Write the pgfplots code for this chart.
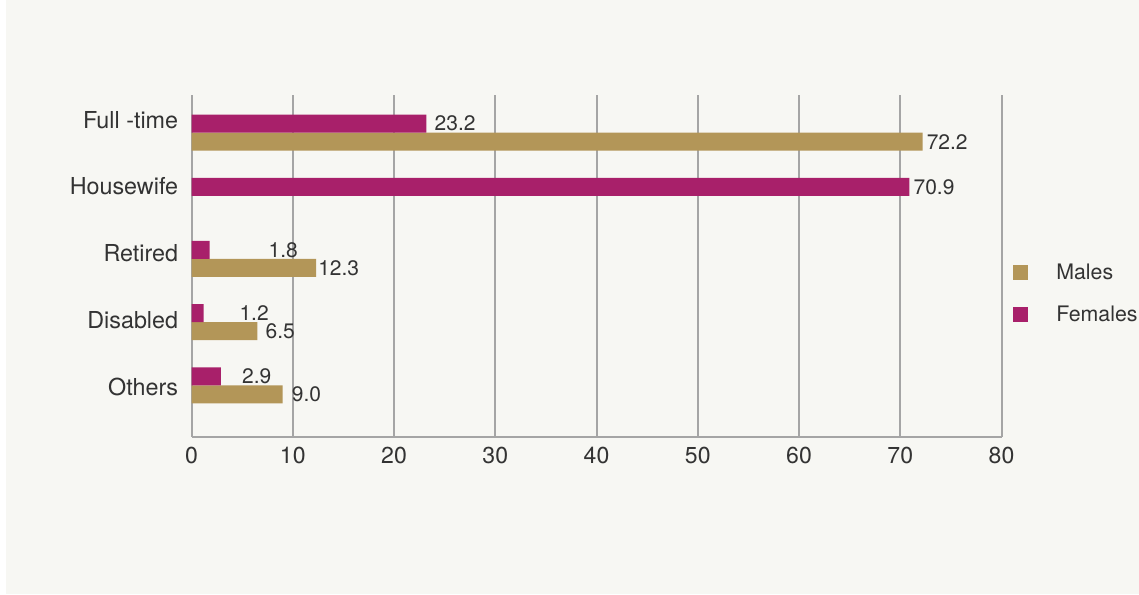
\documentclass[border=0pt]{standalone}
\usepackage{fontspec}
\setmainfont{TeX Gyre Heros}
\usepackage{pgfplots}
\usepackage{pgfplotstable}
\pgfplotsset{compat=1.18}
\definecolor{bg}{HTML}{F7F7F3}
\definecolor{males}{HTML}{B39658}
\definecolor{females}{HTML}{A8206A}
\definecolor{gridc}{HTML}{A5A5A5}
\definecolor{txt}{HTML}{333333}

% y: 4 = Full -time, 3 = Housewife, 2 = Retired, 1 = Disabled, 0 = Others
\pgfplotstableread{
y m off
4 72.2 3
2 12.3 1.5
1 6.5 6
0 9.0 6.75
}\males
\pgfplotstableread{
y f off
4 23.2 6
3 70.9 3
2 1.8 44
1 1.2 26.7
0 2.9 15.75
}\females

\begin{document}
\begin{tikzpicture}
\fill[white] (0pt,0pt) rectangle (854.25pt,445.5pt);
\useasboundingbox (0pt,0pt) rectangle (854.25pt,445.5pt);
\fill[bg] (4.5pt,0pt) rectangle (854.25pt,445.5pt);
\begin{axis}[
  at={(143.625pt,117.975pt)}, anchor=south west,
  scale only axis, width=607.5pt, height=256.3pt,
  xbar=0pt, bar width=0.285,
  xmin=0, xmax=80, ymin=-0.814, ymax=4.597,
  enlargelimits=false, clip=false,
  axis x line*=bottom, axis y line*=left,
  axis line style={gridc, line width=1.5pt, -},
  xmajorgrids, grid style={gridc, line width=1.5pt},
  xtick={0,10,...,80},
  ytick={0,1,2,3,4},
  yticklabels={Others,Disabled,Retired,Housewife,Full -time},
  major tick length=0pt,
  /pgf/number format/assume math mode=true,
  xticklabel style={font=\fontsize{17.3}{20}\selectfont, text=txt, yshift=-4pt},
  yticklabel style={font=\fontsize{17.5}{20}\selectfont, text=txt, xshift=-6.5pt,
    yshift=\ticknum*2.66pt-1.05pt},
  point meta=x,
  nodes near coords={\pgfmathprintnumber[fixed,zerofill,precision=1]{\pgfplotspointmeta}},
  visualization depends on={\thisrow{off} \as \myoff},
  every node near coord/.append style={anchor=west, inner sep=0pt, xshift=\myoff pt,
    font=\fontsize{15.75}{18}\selectfont, text=txt},
  legend style={at={(1.0142,0.419)}, anchor=west, draw=none, fill=none,
    inner sep=0pt, row sep=14pt, font=\fontsize{16}{18}\selectfont, text=txt,
    /tikz/every odd column/.append style={column sep=19pt}},
  legend cell align=left,
]
\addplot[fill=males, draw=none,
  legend image code/.code={\fill[males] (0pt,-5.625pt) rectangle (11.25pt,5.625pt);}]
  table[x=m, y=y] {\males};
\addlegendentry{Males}
\addplot[fill=females, draw=none,
  legend image code/.code={\fill[females] (0pt,-5.625pt) rectangle (11.25pt,5.625pt);}]
  table[x=f, y=y] {\females};
\addlegendentry{Females}
\end{axis}
\end{tikzpicture}
\end{document}
